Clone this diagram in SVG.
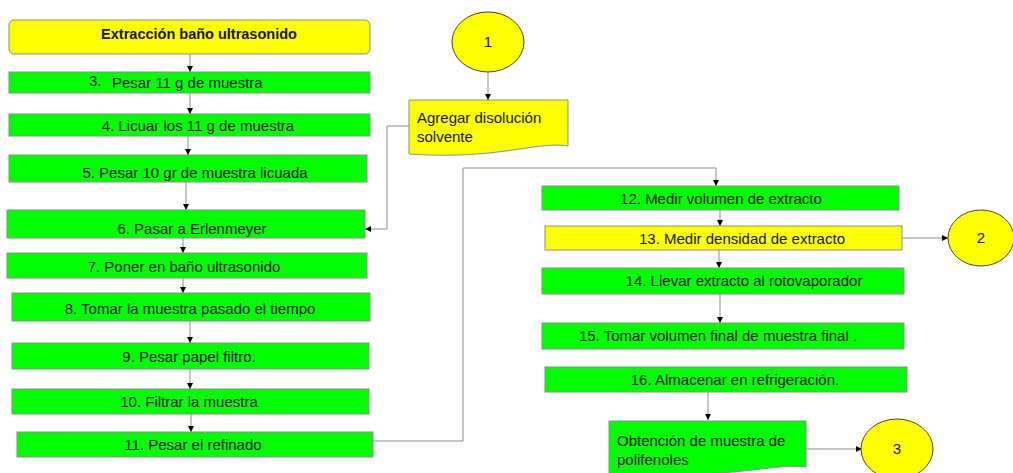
<svg xmlns="http://www.w3.org/2000/svg" width="1013" height="473" viewBox="0 0 1013 473">
<defs>
<marker id="ah" viewBox="0 0 10 10" refX="10" refY="5" markerWidth="6" markerHeight="6" orient="auto" markerUnits="userSpaceOnUse"><path d="M0,0 L10,5 L0,10 Z" fill="#000"/></marker>
<style>
.g{fill:#00ff00;stroke:#8c8c8c;stroke-width:1}
.y{fill:#ffff00;stroke:#8c8c8c;stroke-width:1}
.c{fill:#ffff00;stroke:#444;stroke-width:1}
.t{font-family:"Liberation Sans",Arial,sans-serif;font-size:15px;fill:#111;text-anchor:middle}
.l{font-family:"Liberation Sans",Arial,sans-serif;font-size:15px;fill:#111}
.b{font-weight:bold;font-size:14.5px}
.k{fill:none;stroke:#8c8c8c;stroke-width:1;marker-end:url(#ah)}
</style>
</defs>
<rect width="1013" height="473" fill="#fff"/>
<g id="connectors">
<path class="k" d="M190,55 V72"/>
<path class="k" d="M190,93 V114"/>
<path class="k" d="M188,136 V155"/>
<path class="k" d="M186,182 V210"/>
<path class="k" d="M183,238 V253"/>
<path class="k" d="M183,278 V293"/>
<path class="k" d="M190,321 V343"/>
<path class="k" d="M190,369 V389"/>
<path class="k" d="M191,414 V432"/>
<path class="k" d="M488,72 V100"/>
<path class="k" d="M409,126 H387 V229 H365"/>
<path class="k" d="M373,441 H463 V168 H716 V186"/>
<path class="k" d="M720,210 V226"/>
<path class="k" d="M719,250 V268"/>
<path class="k" d="M902,238 H948"/>
<path class="k" d="M720,294 V323"/>
<path class="k" d="M708,392 V420"/>
<path class="k" d="M806,449 H862"/>
</g>
<g id="n0"><rect class="y" x="9" y="20" width="361" height="34" rx="5"/><text class="t b" x="199" y="39">Extracción baño ultrasonido</text></g>
<g id="n3"><rect class="g" x="9" y="72" width="361" height="21"/><text class="l" x="89" y="86">3.</text><text class="l" x="112" y="88">Pesar 11 g de muestra</text></g>
<g id="n4"><rect class="g" x="9" y="114" width="361" height="22"/><text class="t" x="198" y="131">4. Licuar los 11 g de muestra</text></g>
<g id="n5"><rect class="g" x="9" y="155" width="358" height="27"/><text class="t" x="195" y="178">5. Pesar 10 gr de muestra licuada</text></g>
<g id="n6"><rect class="g" x="7" y="210" width="358" height="28"/><text class="t" x="192" y="234">6. Pasar a Erlenmeyer</text></g>
<g id="n7"><rect class="g" x="7" y="253" width="360" height="25"/><text class="t" x="184" y="272">7. Poner en baño ultrasonido</text></g>
<g id="n8"><rect class="g" x="12" y="293" width="358" height="28"/><text class="t" x="190" y="314">8. Tomar la muestra pasado el tiempo</text></g>
<g id="n9"><rect class="g" x="12" y="343" width="357" height="26"/><text class="t" x="189" y="362">9. Pesar papel filtro.</text></g>
<g id="n10"><rect class="g" x="12" y="389" width="357" height="25"/><text class="t" x="189" y="407">10. Filtrar la muestra</text></g>
<g id="n11"><rect class="g" x="17" y="432" width="356" height="25"/><text class="t" x="193" y="450">11. Pesar el refinado</text></g>
<g id="c1"><ellipse class="c" cx="488" cy="42" rx="36" ry="30"/><text class="t" x="488" y="47">1</text></g>
<g id="nA"><path class="y" d="M409,100 H568 V146 C535,141 500,160 409,154 Z"/><text class="l" x="417" y="123">Agregar disolución</text><text class="l" x="417" y="142">solvente</text></g>
<g id="n12"><rect class="g" x="542" y="186" width="357" height="24"/><text class="t" x="721" y="204">12. Medir volumen de extracto</text></g>
<g id="n13"><rect class="y" x="545" y="226" width="357" height="24"/><text class="t" x="742" y="244">13. Medir densidad de extracto</text></g>
<g id="c2"><ellipse class="c" cx="981" cy="238" rx="33" ry="28"/><text class="t" x="981" y="243">2</text></g>
<g id="n14"><rect class="g" x="542" y="268" width="362" height="26"/><text class="t" x="744" y="286">14. Llevar extracto al rotovaporador</text></g>
<g id="n15"><rect class="g" x="542" y="323" width="362" height="26"/><text class="t" x="718" y="341">15. Tomar volumen final de muestra final .</text></g>
<g id="n16"><rect class="g" x="545" y="367" width="362" height="25"/><text class="t" x="735" y="385">16. Almacenar en refrigeración.</text></g>
<g id="nB"><path class="g" d="M609,421 H806 V467 C775,463 740,478 609,476 Z"/><text class="l" x="617" y="446">Obtención de muestra de</text><text class="l" x="617" y="465">polifenoles</text></g>
<g id="c3"><ellipse class="c" cx="897" cy="449" rx="36" ry="30"/><text class="t" x="897" y="454">3</text></g>
</svg>
